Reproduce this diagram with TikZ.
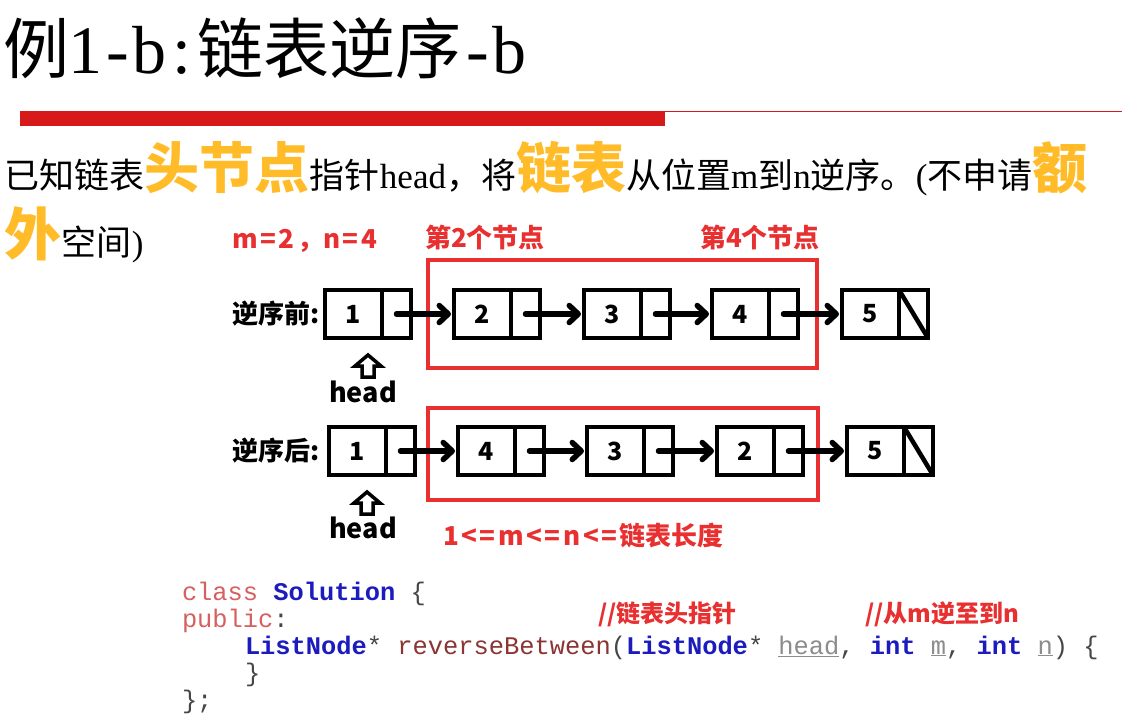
\documentclass[tikz,border=0pt]{standalone}
\usepackage{fontspec}
\setmainfont{Liberation Serif}
\setmonofont{Liberation Mono}
\newfontfamily\cjk{Noto Sans CJK SC}
\usetikzlibrary{arrows.meta}

\definecolor{hlorange}{RGB}{255,188,40}
\definecolor{markred}{RGB}{232,48,48}
\definecolor{barred}{RGB}{215,25,25}
\definecolor{kwred}{RGB}{214,96,96}
\definecolor{kwblue}{RGB}{28,28,190}
\definecolor{fnbrown}{RGB}{140,52,52}
\definecolor{argray}{RGB}{140,140,140}
\definecolor{punct}{RGB}{70,70,70}

\newcommand\setfs[1]{\fontsize{#1}{#1}\selectfont}
% half-width cell for Latin characters in the title
\newcommand\hw[1]{\makebox[32pt]{#1}}
% small gap between spaced-out label characters
\newcommand\gp{\kern2.6pt}

\tikzset{
  txt/.style={anchor=base west, inner sep=0, outer sep=0},
  datacell/.style={draw, line width=4.5pt, minimum width=57pt, minimum height=48pt,
    inner sep=0, outer sep=0, anchor=west, font=\setfs{25}\cjk\bfseries},
  ptrcell/.style={draw, line width=4.5pt, minimum width=29pt, minimum height=48pt,
    inner sep=0, outer sep=0, anchor=west},
  link/.style={line width=5.5pt, line cap=round, shorten >=3pt,
    -{Straight Barb[length=9pt, width=17pt, line cap=round, line join=round]}},
  nullbar/.style={line width=4.5pt},
  redbox/.style={draw=markred, line width=4pt, inner sep=0, outer sep=0, anchor=north west},
  rowlbl/.style={anchor=east, inner sep=0, font=\setfs{26}\cjk\bfseries},
  headlbl/.style={inner sep=0, font=\setfs{27}\cjk\bfseries},
  redlbl/.style={txt, text=markred, font=\setfs{26}\cjk\bfseries},
  codeline/.style={txt, font=\setfs{25.4}\ttfamily},
  note/.style={txt, text=markred, font=\setfs{24}\cjk\bfseries},
  uparrow/.pic={\draw[line width=3.5pt, fill=white, line join=miter]
    (-6,11) -- (6,11) -- (6,0) -- (13,0) -- (0,-11) -- (-13,0) -- (-6,0) -- cycle;}
}

\begin{document}
\begin{tikzpicture}[x=1pt, y=-1pt]
\useasboundingbox (0,0) rectangle (1128,720);
\fill[white] (0,0) rectangle (1128,720);

% title and rule
\node[txt] (title) at (4,73) {\setfs{66}\cjk 例{\rmfamily\setfs{68}\hw{1}\hw{-}\hw{b}\hw{:}}链表逆序{\rmfamily\setfs{68}\hw{-}\hw{b}}};
\draw[barred, line width=1.2pt] (20,111.5) -- (1122,111.5);
\fill[barred] (20,111) rectangle (665,126);

% problem statement
\node[txt] (stmt1) at (5,188) {{\setfs{35}\cjk 已知链表}{\setfs{55}\cjk\bfseries\color{hlorange}头节点}{\setfs{35}\cjk 指针\rmfamily head\cjk ，将}{\setfs{55}\cjk\bfseries\color{hlorange}链表}{\setfs{35}\cjk 从位置\rmfamily m\cjk 到\rmfamily n\cjk 逆序。\rmfamily(\cjk 不申请}{\setfs{55}\cjk\bfseries\color{hlorange}额}};
\node[txt] (stmt2) at (5,255) {{\setfs{57}\cjk\bfseries\color{hlorange}外}{\setfs{35}\cjk 空间\rmfamily)}};

% labels above the lists
\node[redlbl] (mn) at (232,248) {m\gp=\gp 2\gp，n\gp=\gp 4};
\node[redlbl] (nth2) at (425,247) {第2个节点};
\node[redlbl] (nth4) at (700,247) {第4个节点};

% reversed range windows
\node[redbox, minimum width=389pt, minimum height=108pt] (win1) at (428,260) {};
\node[redbox, minimum width=390pt, minimum height=92pt] (win2) at (428,408) {};

% list before reversal
\node[rowlbl] (before) at (320,314) {逆序前:};
\node[datacell] (a1) at (325,314) {1}; \node[ptrcell] (a1p) at (a1.east) {};
\node[datacell] (a2) at (454,314) {2}; \node[ptrcell] (a2p) at (a2.east) {};
\node[datacell] (a3) at (584,314) {3}; \node[ptrcell] (a3p) at (a3.east) {};
\node[datacell] (a4) at (712,314) {4}; \node[ptrcell] (a4p) at (a4.east) {};
\node[datacell] (a5) at (842,314) {5}; \node[ptrcell] (a5p) at (a5.east) {};
\draw[nullbar] (a5p.north west) -- (a5p.south east);
\draw[link] (a1p.center) -- (a2.west);
\draw[link] (a2p.center) -- (a3.west);
\draw[link] (a3p.center) -- (a4.west);
\draw[link] (a4p.center) -- (a5.west);
\pic at (368,366) {uparrow};
\node[headlbl] (head1) at (363,392) {head};

% list after reversal
\node[rowlbl] (after) at (320,451) {逆序后:};
\node[datacell] (b1) at (329,451) {1}; \node[ptrcell] (b1p) at (b1.east) {};
\node[datacell] (b2) at (458,451) {4}; \node[ptrcell] (b2p) at (b2.east) {};
\node[datacell] (b3) at (587,451) {3}; \node[ptrcell] (b3p) at (b3.east) {};
\node[datacell] (b4) at (717,451) {2}; \node[ptrcell] (b4p) at (b4.east) {};
\node[datacell] (b5) at (847,451) {5}; \node[ptrcell] (b5p) at (b5.east) {};
\draw[nullbar] (b5p.north west) -- (b5p.south east);
\draw[link] (b1p.center) -- (b2.west);
\draw[link] (b2p.center) -- (b3.west);
\draw[link] (b3p.center) -- (b4.west);
\draw[link] (b4p.center) -- (b5.west);
\pic at (367,503) {uparrow};
\node[headlbl] (head2) at (363,528) {head};

\node[redlbl] (range) at (443,545) {1\gp<\gp=\gp m\gp<\gp=\gp n\gp<\gp=\gp 链表长度};

% code
\node[codeline] (c1) at (182,600) {\textcolor{kwred}{class} \textcolor{kwblue}{\bfseries Solution} \textcolor{punct}{\{}};
\node[codeline] (c2) at (182,627) {\textcolor{kwred}{public}\textcolor{punct}{:}};
\node[codeline] (c3) at (245,654) {\textcolor{kwblue}{\bfseries ListNode}\textcolor{punct}{*} \textcolor{fnbrown}{reverseBetween}\textcolor{punct}{(}\textcolor{kwblue}{\bfseries ListNode}\textcolor{punct}{*} \textcolor{argray}{\underline{head}}\textcolor{punct}{,} \textcolor{kwblue}{\bfseries int} \textcolor{argray}{\underline{m}}\textcolor{punct}{,} \textcolor{kwblue}{\bfseries int} \textcolor{argray}{\underline{n}}\textcolor{punct}{)} \textcolor{punct}{\{}};
\node[codeline] (c4) at (245,681) {\textcolor{punct}{\}}};
\node[codeline] (c5) at (182,708) {\textcolor{punct}{\};}};
\node[note] (note1) at (598,622) {//链表头指针};
\node[note] (note2) at (865,622) {//从m逆至到n};
\end{tikzpicture}
\end{document}
